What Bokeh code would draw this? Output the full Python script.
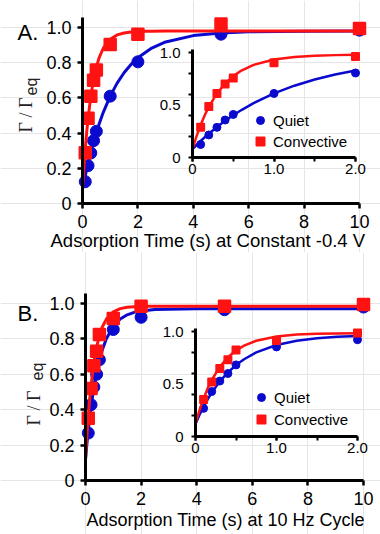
import math
from bokeh.plotting import figure
from bokeh.models import Range1d, LinearAxis, FixedTicker, Label, Legend, LegendItem
from bokeh.layouts import column
from bokeh.embed import file_html
from bokeh.resources import INLINE

# ---------------- data ----------------
TIMES = [0.1, 0.2, 0.3, 0.4, 0.5, 1, 2, 5, 10]

A_QUIET = [0.124, 0.215, 0.287, 0.357, 0.41, 0.61, 0.805, 0.962, 0.985]
A_CONV = [0.288, 0.485, 0.61, 0.70, 0.758, 0.903, 0.962, 1.02, 0.995]

B_QUIET = [0.268, 0.428, 0.528, 0.60, 0.682, 0.853, 0.922, 0.965, 0.98]
B_CONV = [0.352, 0.52, 0.648, 0.73, 0.825, 0.915, 0.985, 0.985, 0.995]

FIT_T = [0, 0.05, 0.1, 0.15, 0.2, 0.3, 0.4, 0.5, 0.6, 0.75, 1, 1.25, 1.5,
         1.75, 2, 2.5, 3, 4, 5, 6, 8, 10]
A_QUIET_FIT = [0.080, 0.119, 0.157, 0.193, 0.227, 0.291, 0.350, 0.403, 0.452,
               0.518, 0.610, 0.684, 0.743, 0.790, 0.828, 0.883, 0.918, 0.954,
               0.969, 0.976, 0.979, 0.980]
A_CONV_FIT = [0.080, 0.204, 0.310, 0.403, 0.482, 0.610, 0.705, 0.775, 0.828,
              0.882, 0.933, 0.958, 0.969, 0.975, 0.978, 0.979, 0.980, 0.980,
              0.980, 0.980, 0.980, 0.980]
B_QUIET_FIT = [0.120, 0.207, 0.285, 0.354, 0.417, 0.525, 0.610, 0.680, 0.736,
               0.801, 0.871, 0.912, 0.936, 0.950, 0.958, 0.966, 0.968, 0.970,
               0.970, 0.970, 0.970, 0.970]
B_CONV_FIT = [0.120, 0.252, 0.363, 0.458, 0.538, 0.663, 0.754, 0.819, 0.866,
              0.912, 0.953, 0.971, 0.979, 0.982, 0.984, 0.985, 0.985, 0.985,
              0.985, 0.985, 0.985, 0.985]

MAIN_X_TICKS = [0, 2, 4, 6, 8, 10]
MAIN_Y_TICKS = [0, 0.2, 0.4, 0.6, 0.8, 1.0]
MAIN_X_MAX = 10
MAIN_Y_MAX = 1.055
INSET_X_LABEL_TICKS = [0, 1, 2]
INSET_X_MINOR = [0, 0.5, 1, 1.5, 2]
INSET_Y_LABEL_TICKS = [0, 0.5, 1.0]
INSET_Y_MINOR = [0, 0.2, 0.4, 0.6, 0.8, 1.0]
INSET_X_MAX = 2
INSET_Y_MAX = 1.03

BLUE = "#0A0ACF"
RED = "#FF1212"
SANS = "Liberation Sans"
SERIF = "Liberation Serif"
W = 380


def subset(ts, ys, tmax):
    out_t, out_y = [], []
    for t, y in zip(ts, ys):
        if t <= tmax:
            out_t.append(t)
            out_y.append(y)
    return out_t, out_y


def x_range_from_px(px0, px1, v1, total):
    # data 0 at pixel px0, data v1 at pixel px1 (pixels from the canvas left)
    k = (px1 - px0) / v1
    start = -px0 / k
    return Range1d(start, start + total / k)


def y_range_from_px(py0, py1, v1, total):
    # pixels measured from the canvas top; data 0 at py0, data v1 at py1
    k = (py0 - py1) / v1
    start = -(total - py0) / k
    return Range1d(start, start + total / k)


def style_axis(ax, font_px):
    ax.axis_line_width = 3
    ax.axis_line_color = "black"
    ax.major_label_text_font = SANS
    ax.major_label_text_font_size = font_px
    ax.major_label_text_color = "black"
    ax.axis_label = None


def panel(letter, xtitle, quiet, conv, quiet_fit, conv_fit, L):
    H = L["h"]
    p = figure(width=W, height=H, min_border=0,
               x_range=x_range_from_px(L["x0"], L["x10"], MAIN_X_MAX, W),
               y_range=y_range_from_px(L["y0"], L["y1"], 1.0, H),
               x_axis_location=None, y_axis_location=None,
               output_backend="svg", toolbar_location=None)
    p.outline_line_color = None
    p.background_fill_color = "white"
    p.border_fill_color = "white"

    # main axes, placed at data 0
    yax = LinearAxis(fixed_location=0, bounds=(0, MAIN_Y_MAX),
                     ticker=FixedTicker(ticks=MAIN_Y_TICKS),
                     major_label_overrides={0: "0", 1: "1.0"})
    xax = LinearAxis(fixed_location=0, bounds=(0, MAIN_X_MAX),
                     ticker=FixedTicker(ticks=MAIN_X_TICKS))
    for ax in (yax, xax):
        style_axis(ax, "18px")
        ax.major_tick_line_width = 2.5
        ax.major_tick_out = 5
        ax.major_tick_in = 0
        ax.minor_tick_out = 0
        ax.minor_tick_in = 0
        ax.major_label_standoff = 6
    p.add_layout(yax, "left")
    p.add_layout(xax, "below")

    # main series
    p.line(FIT_T, quiet_fit, line_color=BLUE, line_width=3)
    p.scatter(TIMES, quiet, marker="circle", size=12, fill_color=BLUE,
              line_color=BLUE, line_width=1)
    p.line(FIT_T, conv_fit, line_color=RED, line_width=3)
    p.scatter(TIMES, conv, marker="square", size=11, fill_color=RED,
              line_color=RED, line_width=2.5, line_join="round")

    # inset
    p.extra_x_ranges = {"ix": x_range_from_px(L["ix0"], L["ix2"], INSET_X_MAX, W)}
    p.extra_y_ranges = {"iy": y_range_from_px(L["iy0"], L["iy1"], 1.0, H)}
    ft, qf = subset(FIT_T, quiet_fit, INSET_X_MAX)
    _, cf = subset(FIT_T, conv_fit, INSET_X_MAX)
    it, iq = subset(TIMES, quiet, INSET_X_MAX)
    _, ic = subset(TIMES, conv, INSET_X_MAX)
    p.line(ft, qf, line_color=BLUE, line_width=2.5, x_range_name="ix", y_range_name="iy")
    rq = p.scatter(it, iq, marker="circle", size=8, fill_color=BLUE, line_color=BLUE,
                   line_width=1, x_range_name="ix", y_range_name="iy")
    p.line(ft, cf, line_color=RED, line_width=2.5, x_range_name="ix", y_range_name="iy")
    rc = p.scatter(it, ic, marker="square", size=7, fill_color=RED, line_color=RED,
                   line_width=2, line_join="round", x_range_name="ix", y_range_name="iy")

    iy_axis = LinearAxis(x_range_name="ix", y_range_name="iy", fixed_location=0,
                         bounds=(0, INSET_Y_MAX),
                         ticker=FixedTicker(ticks=INSET_Y_LABEL_TICKS, minor_ticks=INSET_Y_MINOR),
                         major_label_overrides={0: "0", 0.5: "0.5", 1: "1.0"})
    ix_axis = LinearAxis(x_range_name="ix", y_range_name="iy", fixed_location=0,
                         bounds=(0, INSET_X_MAX),
                         ticker=FixedTicker(ticks=INSET_X_LABEL_TICKS, minor_ticks=INSET_X_MINOR),
                         major_label_overrides={0: "0", 1: "1.0", 2: "2.0"})
    for ax in (iy_axis, ix_axis):
        style_axis(ax, "15px")
        ax.minor_tick_out = 4
        ax.minor_tick_in = 0
        ax.minor_tick_line_width = 2
    iy_axis.major_tick_out = 0
    iy_axis.major_tick_in = 0
    iy_axis.major_label_standoff = 8
    ix_axis.major_tick_out = 4
    ix_axis.major_tick_in = 0
    ix_axis.major_tick_line_width = 2
    ix_axis.major_label_standoff = 2
    p.add_layout(iy_axis, "left")
    p.add_layout(ix_axis, "below")

    legend = Legend(items=[LegendItem(label="Quiet", renderers=[rq]),
                           LegendItem(label="Convective", renderers=[rc])],
                    location=L["leg"], glyph_width=20, glyph_height=20,
                    spacing=L["leg_sp"], padding=0, margin=0, label_standoff=3,
                    border_line_color=None, background_fill_alpha=0,
                    label_text_font=SANS, label_text_font_size="15px",
                    label_text_color="black")
    p.add_layout(legend)

    # texts (canvas pixels: x from left, y from bottom)
    p.add_layout(Label(x=L["letter"][0], y=L["letter"][1], x_units="screen", y_units="screen",
                       text=letter, text_font=SANS, text_font_size="22px",
                       text_baseline="alphabetic", text_align="left", text_color="black"))
    p.add_layout(Label(x=L["g"][0], y=L["g"][1], x_units="screen", y_units="screen",
                       text="Γ / Γ", text_font=SERIF, text_font_size="18px",
                       angle=math.pi / 2, text_align="left", text_baseline="middle",
                       text_color="#222222"))
    p.add_layout(Label(x=L["eq"][0], y=L["eq"][1], x_units="screen", y_units="screen",
                       text="eq", text_font=SANS, text_font_size="16px",
                       angle=math.pi / 2, text_align="left", text_baseline="middle",
                       text_color="#222222"))
    p.add_layout(Label(x=L["title"][0], y=L["title"][1], x_units="screen", y_units="screen",
                       text=xtitle, text_font=SANS, text_font_size=L["title_size"],
                       text_baseline="top", text_align="left", text_color="black"))
    return p


# pixel layout of each panel (canvas coordinates; y from top unless noted)
LAYOUT_A = dict(h=252, x0=82, x10=359, y0=203, y1=27,
                ix0=192, ix2=355, iy0=157, iy1=52,
                leg=(250, 101), leg_sp=1,
                letter=(17, 220), g=(25, 120), eq=(31, 157),
                title=(50, 23), title_size="18.5px")
LAYOUT_B = dict(h=282, x0=85, x10=363, y0=228, y1=51,
                ix0=195, ix2=357, iy0=184, iy1=79,
                leg=(251, 105), leg_sp=2,
                letter=(17, 221), g=(33, 109), eq=(37, 154),
                title=(86, 25), title_size="18px")

pa = panel("A.", "Adsorption Time (s) at Constant -0.4 V",
           A_QUIET, A_CONV, A_QUIET_FIT, A_CONV_FIT, LAYOUT_A)
pb = panel("B.", "Adsorption Time (s) at 10 Hz Cycle",
           B_QUIET, B_CONV, B_QUIET_FIT, B_CONV_FIT, LAYOUT_B)

page = column(pa, pb, spacing=0)
open("out.html", "w").write(file_html(page, INLINE))
